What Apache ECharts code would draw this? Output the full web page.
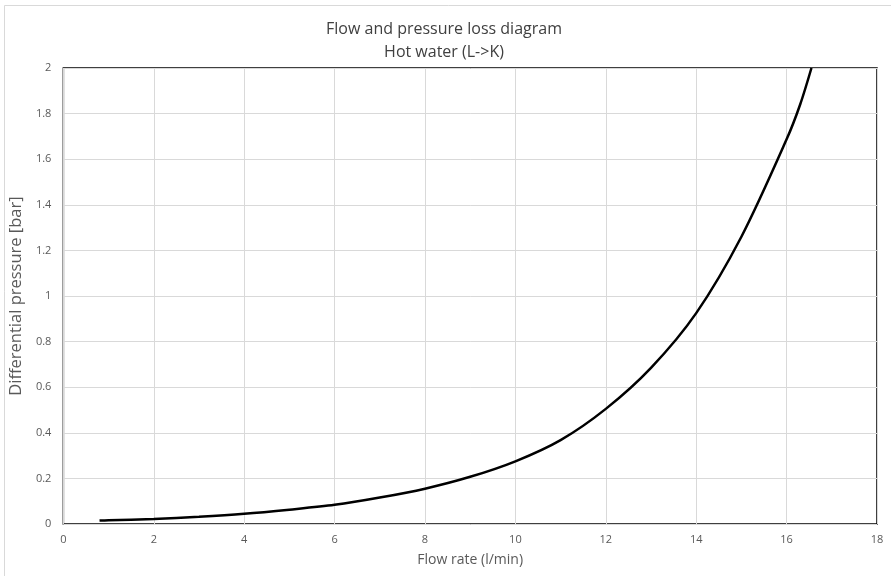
<!DOCTYPE html>
<html>
<head>
<meta charset="utf-8">
<script src="https://cdn.jsdelivr.net/npm/echarts@6/dist/echarts.min.js"></script>
<style>html,body{margin:0;padding:0;background:#fff;}#c{width:891px;height:576px;}</style>
</head>
<body>
<div id="c"></div>
<script>
const titleLines = ['Flow and pressure loss diagram', 'Hot water (L->K)'];
const xAxisName = 'Flow rate (l/min)';
const yAxisName = 'Differential pressure [bar]';
const flowRate = [0.8, 1, 2, 3, 4, 5, 6, 7, 8, 9, 10, 11, 12, 13, 14, 15, 16, 16.3, 16.55];
const pressure = [0.015, 0.016, 0.022, 0.032, 0.045, 0.063, 0.084, 0.116, 0.155, 0.207, 0.275, 0.368, 0.505, 0.685, 0.925, 1.26, 1.687, 1.84, 2.0];

const chart = echarts.init(document.getElementById('c'), null, {renderer: 'canvas'});
const font = '"Open Sans", "Liberation Sans", sans-serif';
chart.setOption({
  animation: false,
  backgroundColor: '#fff',
  title: {
    text: titleLines.join('\n'),
    left: 439, top: 13, textAlign: 'center',
    textStyle: {fontFamily: font, fontSize: 16, fontWeight: 'normal', color: '#404040', lineHeight: 23}
  },
  graphic: [{
    type: 'rect', shape: {x: 4.5, y: 5.5, width: 1000, height: 1000},
    style: {fill: 'none', stroke: '#d9d9d9', lineWidth: 1}, silent: true, z: -1
  }],
  grid: {left: 63, right: 14, top: 68, bottom: 52, show: true, borderColor: '#000', borderWidth: 1.5, backgroundColor: 'transparent'},
  xAxis: {
    type: 'value', min: 0, max: 18, interval: 2,
    name: xAxisName, nameLocation: 'middle', nameGap: 29,
    nameTextStyle: {fontFamily: font, fontSize: 14, color: '#595959'},
    axisLine: {show: false}, axisTick: {show: false},
    axisLabel: {fontFamily: font, fontSize: 11, color: '#595959', margin: 10},
    splitLine: {show: true, lineStyle: {color: '#d9d9d9', width: 1}}
  },
  yAxis: {
    type: 'value', min: 0, max: 2, interval: 0.2,
    name: yAxisName, nameLocation: 'middle', nameGap: 28,
    nameTextStyle: {fontFamily: font, fontSize: 16.5, color: '#595959'},
    axisLine: {show: false}, axisTick: {show: false},
    axisLabel: {fontFamily: font, fontSize: 11, color: '#595959', margin: 12,
      formatter: v => String(Math.round(v * 10) / 10)},
    splitLine: {show: true, lineStyle: {color: '#d9d9d9', width: 1}}
  },
  series: [{
    type: 'line',
    data: flowRate.map((x, i) => [x, pressure[i]]),
    smooth: 0.3,
    showSymbol: false,
    lineStyle: {color: '#000', width: 2.5},
    clip: true
  }]
});
</script>
</body>
</html>
